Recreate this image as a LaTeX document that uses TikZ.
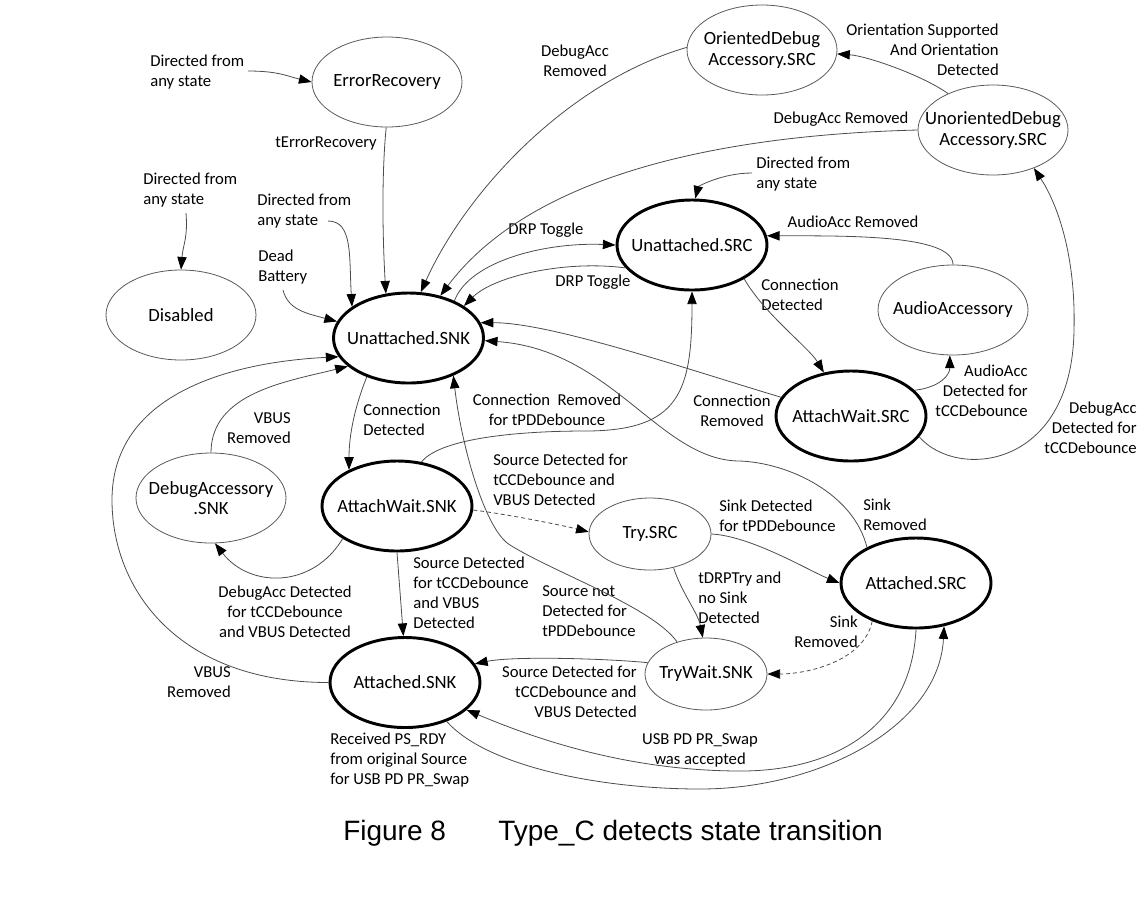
\documentclass[tikz,border=0pt]{standalone}
\usepackage{fontspec}
\setmainfont{Carlito}
\newfontfamily\capfont{Liberation Sans}
\usetikzlibrary{arrows.meta, shapes.geometric, positioning}

\begin{document}
\begin{tikzpicture}[x=0.75pt, y=-0.75pt,
    st/.style={ellipse, draw=black!65, line width=0.6pt, minimum width=112.5pt, minimum height=67.5pt, inner sep=0pt},
    sm/.style={st, minimum width=91.5pt, minimum height=54pt},
    bold/.style={draw=black, line width=2.2pt},
    sttext/.style={font=\fontsize{14}{15.5}\selectfont, align=center, inner sep=0pt},
    lbl/.style={font=\fontsize{12.5}{15}\selectfont, inner sep=0pt},
    conn/.style={draw=black!70, line width=0.6pt, -{Triangle[length=9.5pt, width=7pt, color=black]}},
    dashconn/.style={conn, dash pattern=on 3pt off 2.2pt}]
                        \useasboundingbox (0, 0) rectangle (1141, 901);

                        % states
                        \node[st, label={[sttext]center:ErrorRecovery}] (err) at (387, 82) {};
                        \node[st, label={[sttext]center:{OrientedDebug\\Accessory.SRC}}] (odbg) at (762, 50) {};
                        \node[st, label={[sttext]center:{UnorientedDebug\\Accessory.SRC}}] (udbg) at (993, 130) {};
                        \node[st, label={[sttext]center:Disabled}] (dis) at (181, 315) {};
                        \node[st, bold, label={[sttext]center:Unattached.SNK}] (usnk) at (408.5, 338) {};
                        \node[st, bold, label={[sttext]center:Unattached.SRC}] (usrc) at (692, 245) {};
                        \node[st, label={[sttext]center:AudioAccessory}] (audio) at (953, 310) {};
                        \node[st, bold, label={[sttext]center:AttachWait.SRC}] (awsrc) at (851, 416) {};
                        \node[st, bold, label={[sttext]center:AttachWait.SNK}] (awsnk) at (397, 506) {};
                        \node[st, label={[sttext]center:{DebugAccessory\\.SNK}}] (dbgsnk) at (211, 498) {};
                        \node[sm, label={[sttext]center:Try.SRC}] (trysrc) at (650, 534) {};
                        \node[st, bold, label={[sttext]center:Attached.SRC}] (asrc) at (916, 583) {};
                        \node[st, bold, label={[sttext]center:Attached.SNK}] (asnk) at (405, 682.5) {};
                        \node[sm, label={[sttext]center:TryWait.SNK}] (trywait) at (706, 674) {};

                        % transition labels
                        \node[lbl, align=left, anchor=west] (ldfa1) at (150, 72) {Directed from\\any state};
                        \node[lbl, anchor=east] (lerr) at (377, 143) {tErrorRecovery};
                        \node[lbl, align=left, anchor=west] (ldfa2) at (143, 190) {Directed from\\any state};
                        \node[lbl, align=left, anchor=west] (ldfa3) at (257, 211) {Directed from\\any state};
                        \node[lbl, align=left, anchor=west] (ldbat) at (258, 267) {Dead\\Battery};
                        \node[lbl, align=center] (lodrm) at (575, 61) {DebugAcc\\Removed};
                        \node[lbl] (ludrm) at (841, 119) {DebugAcc Removed};
                        \node[lbl, align=right, anchor=east] (lorient) at (999, 50) {Orientation Supported\\And Orientation\\Detected};
                        \node[lbl, align=left, anchor=west] (ldfa4) at (756, 174) {Directed from\\any state};
                        \node[lbl] (laudrm) at (853, 222) {AudioAcc Removed};
                        \node[lbl] (ldrp1) at (546, 230) {DRP Toggle};
                        \node[lbl] (ldrp2) at (593, 282) {DRP Toggle};
                        \node[lbl, align=left, anchor=west] (lcdsrc) at (761, 295) {Connection\\Detected};
                        \node[lbl, align=right, anchor=east] (laudet) at (1028, 391) {AudioAcc\\Detected for\\tCCDebounce};
                        \node[lbl, align=right, anchor=east] (ldbgdet) at (1137, 428) {DebugAcc\\Detected for\\tCCDebounce};
                        \node[lbl, align=center] (lcrsrc) at (732, 411) {Connection\\Removed};
                        \node[lbl, align=left, anchor=west] (lsrmsrc) at (863, 515) {Sink\\Removed};
                        \node[lbl, align=left, anchor=west] (lcdsnk) at (363, 420) {Connection\\Detected};
                        \node[lbl, align=center] (lcrpd) at (547, 410) {Connection\ \ Removed\\for tPDDebounce};
                        \node[lbl, align=left, anchor=west] (lsrcnot) at (542, 611) {Source not\\Detected for\\tPDDebounce};
                        \node[lbl, align=left, anchor=west] (ltry) at (493, 480) {Source Detected for\\tCCDebounce and\\VBUS Detected};
                        \node[lbl, align=left, anchor=west] (lsnkdet) at (719, 516) {Sink Detected\\for tPDDebounce};
                        \node[lbl, align=left, anchor=west] (ldrptry) at (698, 598) {tDRPTry and\\no Sink\\Detected};
                        \node[lbl, align=right, anchor=east] (lsrmtry) at (858, 632) {Sink\\Removed};
                        \node[lbl, align=right, anchor=east] (lsrcdet2) at (637, 692) {Source Detected for\\tCCDebounce and\\VBUS Detected};
                        \node[lbl, align=center] (lswap) at (700, 750) {USB PD PR\_Swap\\was accepted};
                        \node[lbl, align=left, anchor=west] (lpsrdy) at (330, 760) {Received PS\_RDY\\from original Source\\for USB PD PR\_Swap};
                        \node[lbl, align=left, anchor=west] (lsrcdet1) at (413, 593) {Source Detected\\for tCCDebounce\\and VBUS\\Detected};
                        \node[lbl, align=center] (ldbgsnk) at (285, 612) {DebugAcc Detected\\for tCCDebounce\\and VBUS Detected};
                        \node[lbl, align=right, anchor=east] (lvbus1) at (291, 428) {VBUS\\Removed};
                        \node[lbl, align=right, anchor=east] (lvbus2) at (231, 682) {VBUS\\Removed};

                        % loose ends of the "any state" arrows
                        \coordinate (dfa1e) at (248, 71);
                        \coordinate (dfa2e) at (186, 213);
                        \coordinate (dfa3e) at (328, 221);
                        \coordinate (dbate) at (283, 290);
                        \coordinate (dfa4e) at (752, 173);

                        \draw[conn] (dfa1e) .. controls +(30, 0) and +(-25, -6) .. (err.180);
                        \draw[conn] (err.-91) .. controls +(-5, 50) and +(-3, -50) .. (usnk.117);
                        \draw[conn] (dfa2e) .. controls +(2, 25) and +(2, -25) .. (dis.90);
                        \draw[conn] (dfa3e) .. controls +(25, 0) and +(-3, -50) .. (usnk.151);
                        \draw[conn] (dbate) .. controls +(5, 20) and +(-30, -8) .. (usnk.167);
                        \draw[conn] (odbg.178) .. controls +(-120, 35) and +(45, -100) .. (usnk.75);
                        \draw[conn] (udbg.180) .. controls +(-200, 5) and +(90, -120) .. (usnk.53);
                        \draw[conn] (udbg.141) .. controls +(-25, -18) and +(30, 2) .. (odbg.-3);
                        \draw[conn] (dfa4e) .. controls +(-30, 0) and +(3, -12) .. (usrc.86);
                        \draw[conn] (audio.90) .. controls +(0, -30) and +(80, 0) .. (usrc.7);
                        \draw[conn] (usnk.39) .. controls +(15, -40) and +(-70, -3) .. (usrc.180);
                        \draw[conn] (usrc.199) .. controls +(-60, -8) and +(30, -30) .. (usnk.30);
                        \draw[conn] (usrc.-33) .. controls +(20, 35) and +(-15, -25) .. (awsrc.122);
                        \draw[conn] (awsrc.22) .. controls +(25, -3) and +(0, 20) .. (audio.-94);
                        \draw[conn] (awsrc.-17) .. controls +(37, 43) and +(-2, 140) .. (1074, 330) .. controls +(2, -80) and +(21, 32) .. (udbg.-43);
                        \draw[conn] (awsrc.165) .. controls +(-100, -30) and +(70, 0) .. (usnk.12);
                        \draw[conn] (asrc.144) .. controls +(-13, -53) and +(50, 2) .. (740, 461) .. controls +(-80, 0) and +(128, 9) .. (usnk.-2);
                        \draw[conn] (usnk.223) .. controls +(-12, 30) and +(0, -35) .. (awsnk.143);
                        \draw[conn] (awsnk.61) .. controls +(20, -25) and +(-60, 0) .. (585, 431) .. controls +(95, 0) and +(0, 100) .. (usrc.-90);
                        \draw[conn] (trywait.132) .. controls +(-25, -35) and +(45, 28) .. (510, 545) .. controls +(-25, -15) and +(8, 70) .. (usnk.-40);
                        \draw[dashconn] (awsnk.-3) .. controls +(40, 5) and +(-20, -5) .. (trysrc.178);
                        \draw[conn] (trysrc.0) .. controls +(40, 2) and +(-30, -12) .. (asrc.180);
                        \draw[conn] (trysrc.-55) .. controls +(8, 25) and +(-5, -25) .. (trywait.95);
                        \draw[dashconn] (asrc.221) .. controls +(-8, 40) and +(40, 0) .. (trywait.0);
                        \draw[conn] (trywait.169) .. controls +(-40, -4) and +(40, -8) .. (asnk.15);
                        \draw[conn] (asrc.-90) .. controls +(-5, 100) and +(90, 0) .. (741, 771) .. controls +(-120, 0) and +(60, 25) .. (asnk.-24);
                        \draw[conn] (asnk.-43) .. controls +(40, 45) and +(-100, 0) .. (700, 789) .. controls +(120, 0) and +(-5, 100) .. (asrc.-57);
                        \draw[conn] (awsnk.-90) -- (asnk.92);
                        \draw[conn] (awsnk.211) .. controls +(-30, 50) and +(35, 45) .. (dbgsnk.-85);
                        \draw[conn] (dbgsnk.90) .. controls +(0, -60) and +(-60, 15) .. (usnk.205);
                        \draw[conn] (asnk.180) .. controls +(-150, 0) and +(0, 90) .. (112, 500) .. controls +(0, -110) and +(-100, 5) .. (usnk.195);

                        % caption
                        \node[font=\capfont\fontsize{21}{25}\selectfont, anchor=base west, inner sep=0pt] (fignum) at (343, 840) {Figure 8};
                        \node[font=\capfont\fontsize{21}{25}\selectfont, anchor=base west, inner sep=0pt] (figtitle) at (498, 840) {Type\_C detects state transition};
                    \end{tikzpicture}
\end{document}
